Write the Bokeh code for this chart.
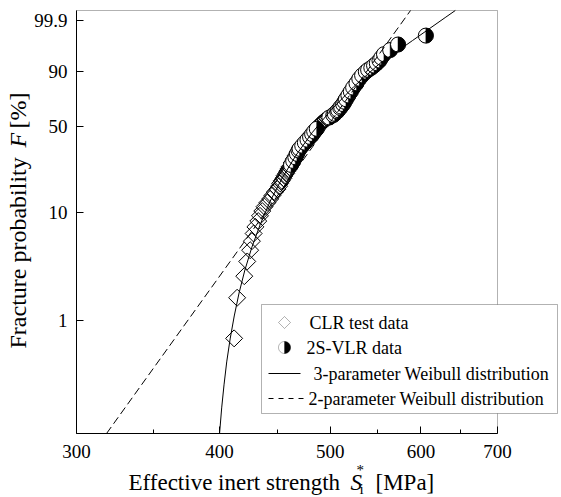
import math
import numpy as np
from bokeh.plotting import figure
from bokeh.models import (Range1d, FixedTicker, CustomJSTickFormatter, Label,
                          BoxAnnotation, PolyAnnotation, Arrow)
from bokeh.embed import file_html
from bokeh.resources import INLINE

# ---------------- data ----------------
# CLR test data: failure probability F [%] and effective inert strength [MPa]
clr_F = [0.68, 1.64, 2.61, 3.58, 4.55, 5.51, 6.48, 7.45, 8.41, 9.38, 10.35, 11.32,
         12.28, 13.25, 14.22, 15.18, 16.15, 17.12, 18.09, 19.05, 20.02, 20.99, 21.95,
         22.92, 23.89, 24.85, 26.79, 28.72, 30.66, 32.59, 35.49, 37.43, 39.36, 41.30,
         43.23, 45.16, 47.10, 49.03, 50.00, 50.97, 51.93, 52.90, 53.87, 54.84, 55.80,
         57.74, 60.64, 63.54, 66.44, 68.38, 70.31, 72.24, 73.21, 75.15, 76.11, 78.05,
         79.01, 80.95, 81.91, 83.85, 84.82, 86.75, 88.68]
clr_x = [412, 414.5, 420.5, 423, 425.5, 427, 428.5, 430, 432.5, 434, 436, 438,
         440.5, 443, 445, 447, 449.5, 451, 452, 453.5, 455, 456, 457.5,
         458.5, 459.5, 460.5, 462.5, 464.5, 466.5, 468, 471, 473.5, 476, 478.5,
         480.5, 483, 485, 487, 488, 489, 490, 491.5, 493, 495, 497,
         501, 505.5, 509, 512, 513.5, 515, 516.5, 517.5, 519, 520, 521.5,
         522.5, 524.5, 525.5, 527.5, 528.5, 531, 534.5]

# 2S-VLR data
vlr_F = [25.82, 27.76, 29.69, 31.62, 33.56, 34.53, 36.46, 38.39, 40.33, 42.26, 44.20,
         46.13, 48.07, 56.77, 58.70, 59.67, 61.61, 62.57, 64.51, 65.47, 67.41, 69.34,
         71.28, 74.18, 77.08, 79.98, 82.88, 85.78, 87.72, 89.65, 90.62, 91.59, 92.55,
         93.52, 94.49, 95.45, 96.42, 97.39, 98.36, 99.32]
vlr_x = [462, 464, 466, 467.5, 469, 470, 472.5, 475, 477.5, 480, 482,
         484, 486.5, 499, 503, 504.5, 507, 508, 510, 511, 513, 514.5,
         516, 518.5, 521, 523.5, 527, 530, 533, 537, 539.5, 543, 546,
         549, 552, 554, 557, 564, 573, 606]

# axis limits of the probability scale [%]
F_BOTTOM, F_TOP = 0.0859, 99.982

# 3-parameter Weibull distribution curve
w3_x = [400.1, 401.8, 403.7, 405.9, 408.7, 412.1, 416.1, 421.0, 427.0, 434.3,
        443.0, 453.7, 466.6, 482.3, 501.3, 524.4, 552.3, 590.0, 630.0, 643.0]
w3_F = [0.0859, 0.150, 0.2476, 0.4078, 0.6715, 1.105, 1.815, 2.975, 4.857, 7.880,
        12.66, 20.00, 30.78, 45.48, 63.21, 80.77, 93.40, 98.87, 99.938, 99.982]

# 2-parameter Weibull distribution (straight dashed line)
w2_x = [318.7, 587.6]
w2_F = [0.0859, 99.982]

# axes
x_lim = [300, 700]
x_ticks = [300, 400, 500, 600, 700]
x_minor_ticks = [350, 450, 550, 650]
y_tick_F = [1, 10, 50, 90, 99.9]
y_tick_labels = ["1", "10", "50", "90", "99.9"]

legend_labels = ["CLR test data", "2S-VLR data",
                 "3-parameter Weibull distribution", "2-parameter Weibull distribution"]


def wb(F_pct):
    """Weibull probability scale: ln(-ln(1-F))."""
    F = np.asarray(F_pct, dtype=float) / 100.0
    return np.log(-np.log(1.0 - F))


FONT = "Liberation Serif"
W, H = 561, 497
# plot area in canvas pixels
PL, PR, PT, PB = 76, 497, 10, 433
Y_MIN, Y_MAX = float(wb(F_BOTTOM)), float(wb(F_TOP))

kx = math.log(x_lim[1] / x_lim[0]) / (PR - PL)
x0 = x_lim[0] * math.exp(-PL * kx)
x1 = x_lim[0] * math.exp((W - PL) * kx)
sy = (PB - PT) / (Y_MAX - Y_MIN)
y0 = Y_MIN - (H - PB) / sy
y1 = Y_MAX + PT / sy

p = figure(width=W, height=H, x_axis_type="log", title=None,
           x_range=Range1d(x0, x1), y_range=Range1d(y0, y1),
           output_backend="svg", toolbar_location=None,
           min_border=0, min_border_left=0, min_border_right=0,
           min_border_top=0, min_border_bottom=0)
p.background_fill_color = "white"
p.border_fill_color = "white"
p.outline_line_color = None
p.grid.visible = False

# x axis
xa = p.xaxis[0]
xa.fixed_location = Y_MIN
xa.bounds = (x_lim[0], x_lim[1])
xa.ticker = FixedTicker(ticks=x_ticks, minor_ticks=x_minor_ticks)
xa.formatter = CustomJSTickFormatter(code="return tick.toFixed(0);")
# y axis
ya = p.yaxis[0]
ya.fixed_location = x_lim[0]
ya.bounds = (Y_MIN, Y_MAX)
ya.ticker = FixedTicker(ticks=[float(v) for v in wb(y_tick_F)], minor_ticks=[])
ya.formatter = CustomJSTickFormatter(
    code="const L = %s; return L[index];" % str(y_tick_labels))

for ax in (xa, ya):
    ax.axis_line_color = "black"
    ax.axis_line_width = 1
    ax.major_tick_line_color = "black"
    ax.minor_tick_line_color = "black"
    ax.major_tick_in = 7
    ax.major_tick_out = 0
    ax.minor_tick_in = 4
    ax.minor_tick_out = 0
    ax.major_label_text_font = FONT
    ax.major_label_text_font_size = "19px"
    ax.major_label_text_color = "black"
xa.major_label_standoff = 11
ya.major_label_standoff = 9

# plot-area frame (top and right borders)
p.add_layout(BoxAnnotation(left=x_lim[0], right=x_lim[1], bottom=Y_MIN, top=Y_MAX,
                           fill_alpha=0, line_color="black", line_width=1,
                           level="underlay"))

# data
p.scatter(clr_x, wb(clr_F), marker="square", angle=math.pi / 4, size=12,
          fill_color=None, line_color="black", line_width=1)

for xv, wv in zip(vlr_x, wb(vlr_F)):
    p.scatter([xv], [wv], marker="circle", size=15, fill_color="white",
              line_color="black", line_width=1)
    p.wedge([xv], [wv], radius=7.5, radius_units="screen",
            start_angle=-math.pi / 2, end_angle=math.pi / 2,
            fill_color="black", line_color="black", line_width=0.5)

p.line(w3_x, wb(w3_F), line_color="black", line_width=1)
p.line(w2_x, wb(w2_F), line_color="black", line_width=1, line_dash="8 4")

# ---------------- legend (drawn by hand; screen units from bottom-left) ------
S = "screen"


def Y(py):
    return H - py


p.add_layout(BoxAnnotation(left=261, right=557, top=Y(304), bottom=Y(413),
                           left_units=S, right_units=S, top_units=S, bottom_units=S,
                           fill_color="white", fill_alpha=1.0,
                           line_color="black", line_width=1, level="overlay"))
cx, cy = 284, Y(322)
p.add_layout(PolyAnnotation(xs=[cx - 6, cx, cx + 6, cx], ys=[cy, cy + 6, cy, cy - 6],
                            xs_units=S, ys_units=S, fill_alpha=0,
                            line_color="black", line_width=1, level="overlay"))
cx, cy, r = 284, Y(347), 6
ang = np.linspace(0, 2 * math.pi, 49)
p.add_layout(PolyAnnotation(xs=list(cx + r * np.cos(ang)), ys=list(cy + r * np.sin(ang)),
                            xs_units=S, ys_units=S, fill_color="white", fill_alpha=1,
                            line_color="black", line_width=1, level="overlay"))
half = np.linspace(-math.pi / 2, math.pi / 2, 25)
p.add_layout(PolyAnnotation(xs=list(cx + r * np.cos(half)), ys=list(cy + r * np.sin(half)),
                            xs_units=S, ys_units=S, fill_color="black", fill_alpha=1,
                            line_color="black", line_width=1, level="overlay"))
p.add_layout(Arrow(end=None, x_start=268, y_start=Y(373), x_end=300, y_end=Y(373),
                   start_units=S, end_units=S, line_color="black", line_width=1,
                   level="overlay"))
p.add_layout(Arrow(end=None, x_start=268, y_start=Y(398), x_end=303, y_end=Y(398),
                   start_units=S, end_units=S, line_color="black", line_width=1,
                   line_dash="5 5", level="overlay"))
for (tx, ty), txt in zip([(309, 322), (306, 347), (313, 373), (308, 398)], legend_labels):
    p.add_layout(Label(x=tx, y=Y(ty), x_units=S, y_units=S, text=txt, text_font=FONT,
                       text_font_size="18px", text_baseline="middle",
                       text_align="left", text_color="black", level="overlay"))


# ---------------- axis titles ----------------
def lab(x, y, txt, size="23px", style="normal", angle=0.0):
    p.add_layout(Label(x=x, y=Y(y), x_units=S, y_units=S, text=txt, text_font=FONT,
                       text_font_size=size, text_font_style=style,
                       text_baseline="middle", text_align="left",
                       angle=angle, text_color="black", level="overlay"))


lab(128, 482, "Effective inert strength")
lab(350, 482, "S", style="italic")
lab(359, 488, "i", size="15px")
lab(356, 469, "*", size="15px")
lab(375, 482, "[MPa]")

lab(17.5, 348, "Fracture probability", size="24px", angle=math.pi / 2)
lab(17.5, 147, "F", size="24px", style="italic", angle=math.pi / 2)
lab(17.5, 128, "[%]", size="24px", angle=math.pi / 2)

open("out.html", "w").write(file_html(p, INLINE))
